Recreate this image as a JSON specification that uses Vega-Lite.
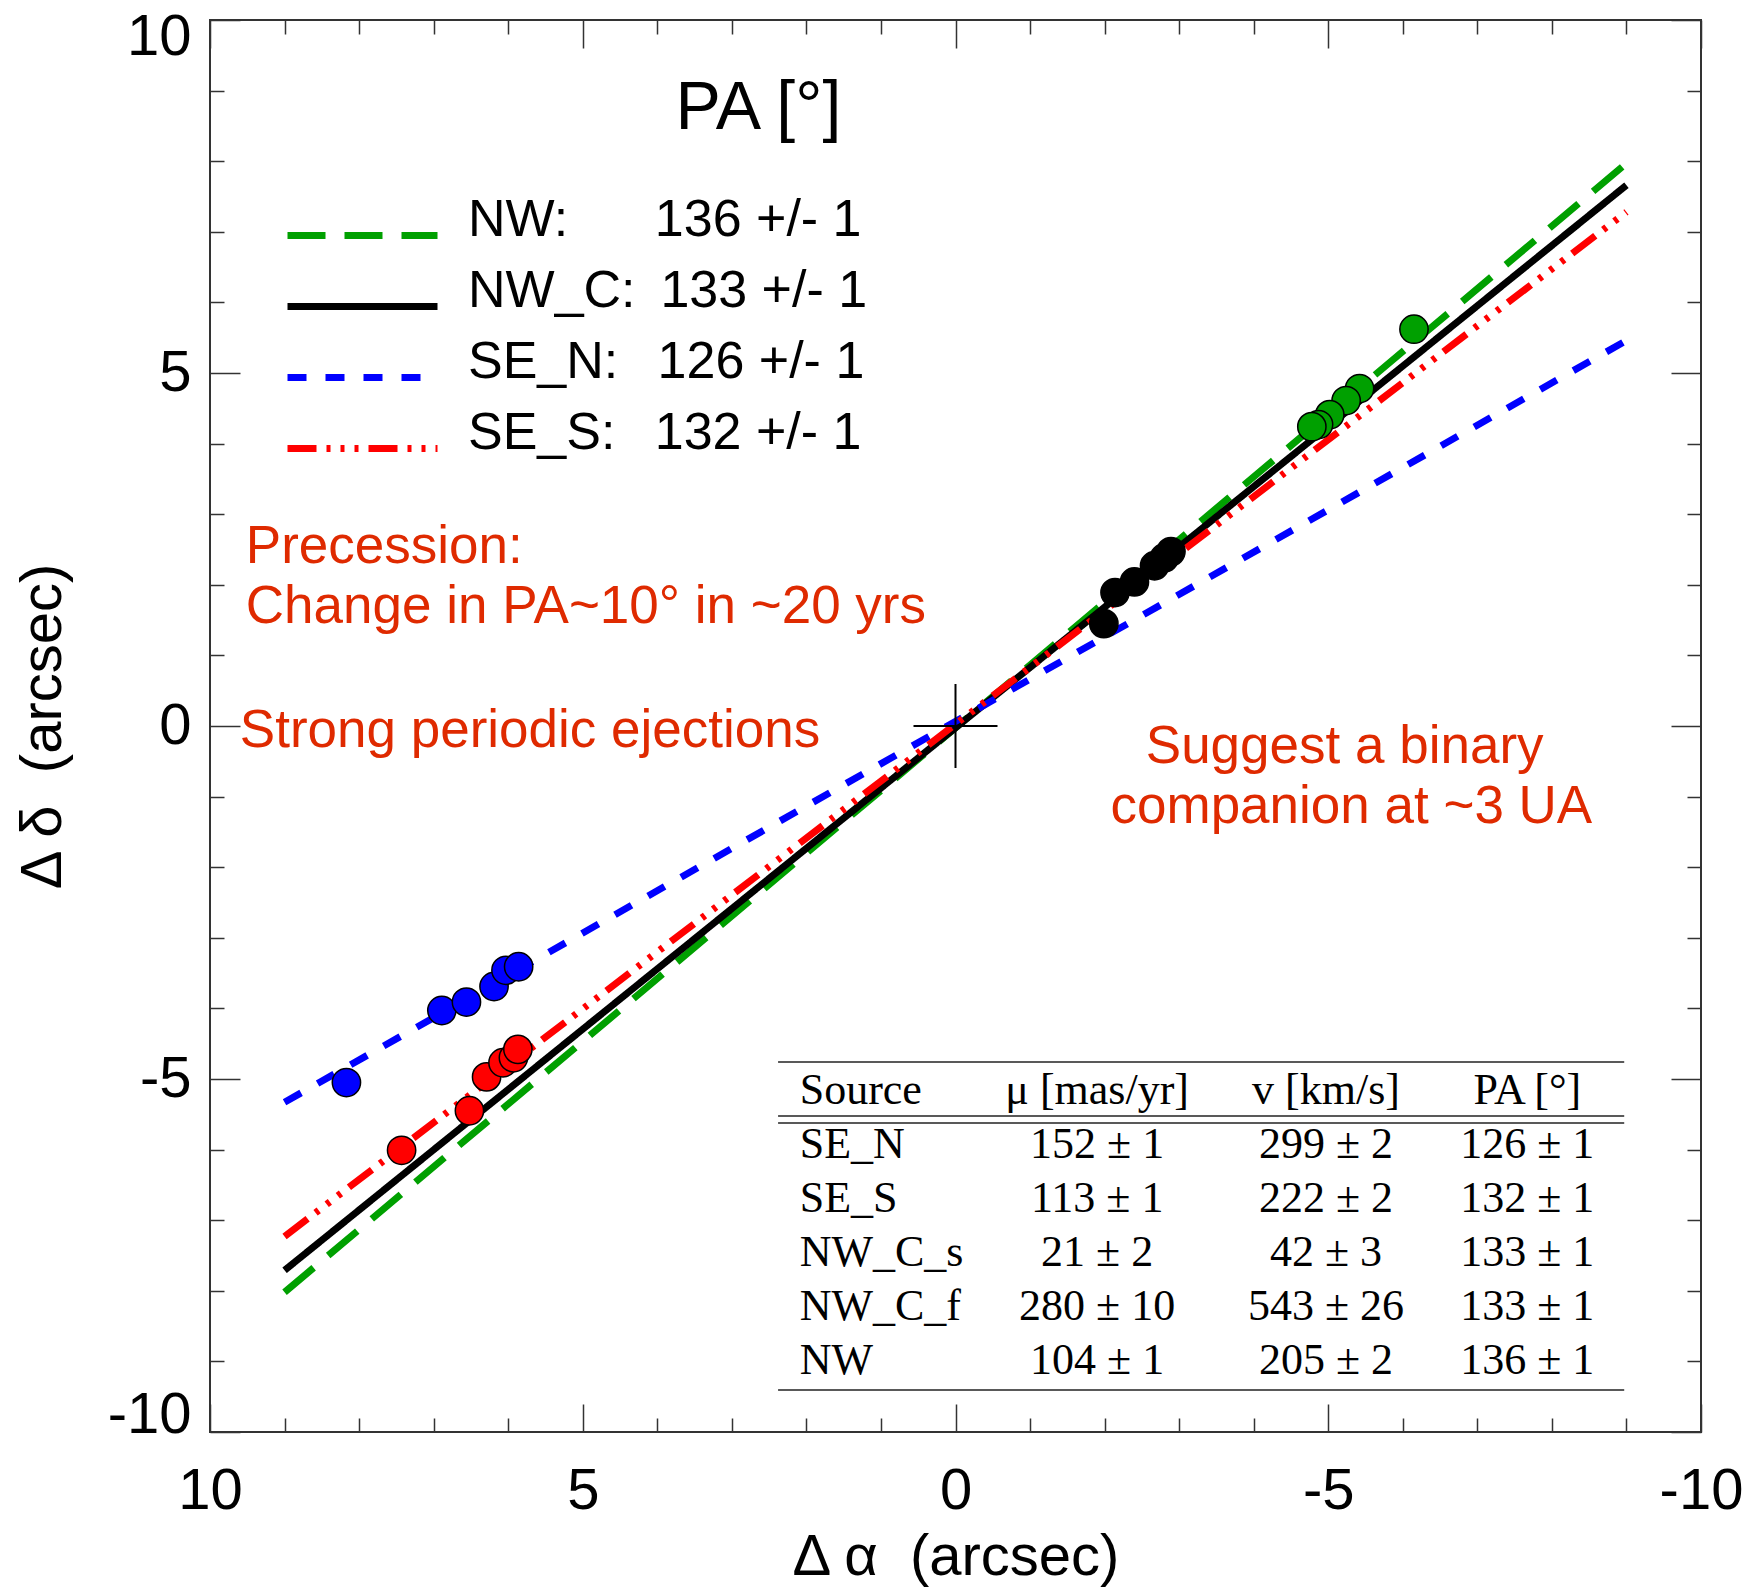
{
  "$schema": "https://vega.github.io/schema/vega-lite/v6.json",
  "width": 1491,
  "height": 1412,
  "autosize": {"type": "none"},
  "padding": {"left": 210, "top": 20, "right": 49, "bottom": 155},
  "background": "white",
  "config": {
    "font": "Liberation Sans",
    "view": {"stroke": "#333333", "strokeWidth": 2},
    "axis": {
      "grid": false, "domain": false, "tickColor": "#333333", "tickWidth": 1.5,
      "labelFont": "Liberation Sans", "labelFontSize": 58, "labelColor": "#000000",
      "titleFont": "Liberation Sans", "titleFontSize": 58, "titleFontWeight": "normal", "titleColor": "#000000",
      "labelOverlap": false, "labelBound": false
    }
  },
  "resolve": {"scale": {"y": "independent"}, "axis": {"x": "independent", "y": "independent"}},
  "layer": [
    {
      "data": {"values": [
        {"fit": "NW: 136 +/- 1", "x": 9.0, "y": -8.02},
        {"fit": "NW: 136 +/- 1", "x": -9.0, "y": 7.97},
        {"fit": "NW_C: 133 +/- 1", "x": 9.0, "y": -7.71},
        {"fit": "NW_C: 133 +/- 1", "x": -9.0, "y": 7.66},
        {"fit": "SE_N: 126 +/- 1", "x": 9.0, "y": -5.33},
        {"fit": "SE_N: 126 +/- 1", "x": -9.0, "y": 5.46},
        {"fit": "SE_S: 132 +/- 1", "x": 9.0, "y": -7.23},
        {"fit": "SE_S: 132 +/- 1", "x": -9.0, "y": 7.28}
      ]},
      "mark": {"type": "line", "strokeWidth": 7, "strokeCap": "butt"},
      "encoding": {
        "x": {"field": "x", "type": "quantitative",
          "scale": {"domain": [-10, 10], "reverse": true, "nice": false, "zero": false},
          "axis": {"orient": "bottom", "values": [-10, -5, 0, 5, 10], "tickSize": -28, "labelPadding": 58,
            "labelExpr": "datum.value + ''", "labelFlush": false, "title": "Δ α\u00a0\u00a0(arcsec)", "titlePadding": 8}},
        "y": {"field": "y", "type": "quantitative",
          "scale": {"domain": [-10, 10], "nice": false, "zero": false},
          "axis": {"orient": "left", "values": [-10, -5, 0, 5, 10], "tickSize": -30, "labelPadding": 49,
            "labelExpr": "datum.value + ''", "labelFlush": true, "labelFlushOffset": 12,
            "title": "Δ δ\u00a0\u00a0(arcsec)", "titlePadding": 35}},
        "color": {"field": "fit", "type": "nominal",
          "scale": {"range": ["#00A000", "#000000", "#0000FF", "#FF0000"]},
          "legend": {
            "orient": "none", "legendX": 74, "legendY": 187, "padding": 0, "title": null,
            "symbolType": "M-3,0H3", "symbolSize": 2500, "symbolOffset": 50, "symbolStrokeWidth": 7,
            "labelFont": "Liberation Sans", "labelFontSize": 52, "labelColor": "#000000", "labelOffset": 77,
            "labelBaseline": "alphabetic", "labelLimit": 2000, "rowPadding": 14,
            "labelExpr": "indexof(datum.label, 'NW:') == 0 ? replace(datum.label, ': ', ':\u00a0\u00a0\u00a0\u00a0\u00a0\u00a0') : indexof(datum.label, 'NW_C') == 0 ? replace(datum.label, ': ', ':\u00a0\u2009') : replace(datum.label, ': ', ':\u00a0\u00a0\u2009')"
          }},
        "strokeDash": {"field": "fit", "type": "nominal",
          "scale": {"range": [[38, 19], [1, 0], [19, 19], [29, 10, 4, 10, 4, 10, 4, 10]]}}
      }
    },
    {
      "data": {"values": [
        {"jet": "NW", "x": -6.15, "y": 5.62},
        {"jet": "NW", "x": -5.42, "y": 4.78},
        {"jet": "NW", "x": -5.24, "y": 4.61},
        {"jet": "NW", "x": -5.02, "y": 4.41},
        {"jet": "NW", "x": -4.87, "y": 4.27},
        {"jet": "NW", "x": -4.78, "y": 4.24},
        {"jet": "NW_C", "x": -1.99, "y": 1.45},
        {"jet": "NW_C", "x": -2.14, "y": 1.89},
        {"jet": "NW_C", "x": -2.40, "y": 2.04},
        {"jet": "NW_C", "x": -2.67, "y": 2.27},
        {"jet": "NW_C", "x": -2.80, "y": 2.38},
        {"jet": "NW_C", "x": -2.89, "y": 2.47},
        {"jet": "SE_N", "x": 8.17, "y": -5.05},
        {"jet": "SE_N", "x": 6.89, "y": -4.03},
        {"jet": "SE_N", "x": 6.56, "y": -3.91},
        {"jet": "SE_N", "x": 6.19, "y": -3.69},
        {"jet": "SE_N", "x": 6.03, "y": -3.46},
        {"jet": "SE_N", "x": 5.86, "y": -3.41},
        {"jet": "SE_S", "x": 7.43, "y": -6.01},
        {"jet": "SE_S", "x": 6.52, "y": -5.45},
        {"jet": "SE_S", "x": 6.29, "y": -4.97},
        {"jet": "SE_S", "x": 6.07, "y": -4.77},
        {"jet": "SE_S", "x": 5.93, "y": -4.70},
        {"jet": "SE_S", "x": 5.87, "y": -4.58}
      ]},
      "mark": {"type": "circle", "size": 800, "stroke": "#000000", "strokeWidth": 1.5, "opacity": 1},
      "encoding": {
        "x": {"field": "x", "type": "quantitative",
          "scale": {"domain": [-10, 10], "reverse": true, "nice": false, "zero": false},
          "axis": {"orient": "top", "values": [-10, -5, 0, 5, 10], "tickSize": -28, "labels": false, "title": null}},
        "y": {"field": "y", "type": "quantitative",
          "scale": {"domain": [-10, 10], "nice": false, "zero": false},
          "axis": {"orient": "right", "values": [-10, -5, 0, 5, 10], "tickSize": -30, "labels": false, "title": null}},
        "fill": {"field": "jet", "type": "nominal",
          "scale": {"range": ["#00A000", "#000000", "#0000FF", "#FF0000"]}, "legend": null}
      }
    },
    {
      "data": {"values": [{"object": "source"}]},
      "mark": {"type": "point", "shape": "M-1,0H1M0,-1V1", "size": 7056, "filled": false, "stroke": "#000000", "strokeWidth": 2, "opacity": 1},
      "encoding": {
        "x": {"datum": 0, "type": "quantitative",
          "scale": {"domain": [-10, 10], "reverse": true, "nice": false, "zero": false},
          "axis": {"orient": "bottom", "values": [-9, -8, -7, -6, -4, -3, -2, -1, 1, 2, 3, 4, 6, 7, 8, 9], "tickSize": -14, "labels": false, "title": null}},
        "y": {"datum": 0, "type": "quantitative",
          "scale": {"domain": [-10, 10], "nice": false, "zero": false},
          "axis": {"orient": "left", "values": [-9, -8, -7, -6, -4, -3, -2, -1, 1, 2, 3, 4, 6, 7, 8, 9], "tickSize": -14, "labels": false, "title": null}}
      }
    },
    {
      "data": {"values": [{"note": "Precession:"}]},
      "mark": {"type": "text", "align": "left", "baseline": "alphabetic", "font": "Liberation Sans", "fontSize": 53, "color": "#DF2A00"},
      "encoding": {
        "text": {"field": "note"},
        "x": {"datum": 9.52, "type": "quantitative",
          "scale": {"domain": [-10, 10], "reverse": true, "nice": false, "zero": false},
          "axis": {"orient": "top", "values": [-9, -8, -7, -6, -4, -3, -2, -1, 1, 2, 3, 4, 6, 7, 8, 9], "tickSize": -14, "labels": false, "title": null}},
        "y": {"datum": 2.305, "type": "quantitative",
          "scale": {"domain": [-10, 10], "nice": false, "zero": false},
          "axis": {"orient": "right", "values": [-9, -8, -7, -6, -4, -3, -2, -1, 1, 2, 3, 4, 6, 7, 8, 9], "tickSize": -14, "labels": false, "title": null}}
      }
    },
    {
      "data": {"values": [{"note": "Change in PA~10° in ~20 yrs"}]},
      "mark": {"type": "text", "align": "left", "baseline": "alphabetic", "font": "Liberation Sans", "fontSize": 53, "color": "#DF2A00"},
      "encoding": {
        "text": {"field": "note"},
        "x": {"datum": 9.52, "type": "quantitative", "scale": {"domain": [-10, 10], "reverse": true, "nice": false, "zero": false}, "axis": null},
        "y": {"datum": 1.463, "type": "quantitative", "scale": {"domain": [-10, 10], "nice": false, "zero": false}, "axis": null}
      }
    },
    {
      "data": {"values": [{"note": "Strong periodic ejections"}]},
      "mark": {"type": "text", "align": "left", "baseline": "alphabetic", "font": "Liberation Sans", "fontSize": 53, "color": "#DF2A00"},
      "encoding": {
        "text": {"field": "note"},
        "x": {"datum": 9.6, "type": "quantitative", "scale": {"domain": [-10, 10], "reverse": true, "nice": false, "zero": false}, "axis": null},
        "y": {"datum": -0.3, "type": "quantitative", "scale": {"domain": [-10, 10], "nice": false, "zero": false}, "axis": null}
      }
    },
    {
      "data": {"values": [{"note": "Suggest a binary"}]},
      "mark": {"type": "text", "align": "center", "baseline": "alphabetic", "font": "Liberation Sans", "fontSize": 53, "color": "#DF2A00"},
      "encoding": {
        "text": {"field": "note"},
        "x": {"datum": -5.22, "type": "quantitative", "scale": {"domain": [-10, 10], "reverse": true, "nice": false, "zero": false}, "axis": null},
        "y": {"datum": -0.52, "type": "quantitative", "scale": {"domain": [-10, 10], "nice": false, "zero": false}, "axis": null}
      }
    },
    {
      "data": {"values": [{"note": "companion at ~3 UA"}]},
      "mark": {"type": "text", "align": "center", "baseline": "alphabetic", "font": "Liberation Sans", "fontSize": 53, "color": "#DF2A00"},
      "encoding": {
        "text": {"field": "note"},
        "x": {"datum": -5.31, "type": "quantitative", "scale": {"domain": [-10, 10], "reverse": true, "nice": false, "zero": false}, "axis": null},
        "y": {"datum": -1.37, "type": "quantitative", "scale": {"domain": [-10, 10], "nice": false, "zero": false}, "axis": null}
      }
    },
    {
      "data": {"values": [{"note": "PA [°]"}]},
      "mark": {"type": "text", "align": "left", "baseline": "alphabetic", "font": "Liberation Sans", "fontSize": 68, "color": "#000000"},
      "encoding": {
        "text": {"field": "note"},
        "x": {"datum": 3.755, "type": "quantitative", "scale": {"domain": [-10, 10], "reverse": true, "nice": false, "zero": false}, "axis": null},
        "y": {"datum": 8.452, "type": "quantitative", "scale": {"domain": [-10, 10], "nice": false, "zero": false}, "axis": null}
      }
    },
    {
      "data": {"values": [{"rule": "top"}]},
      "mark": {"type": "rule", "stroke": "#222222", "strokeWidth": 1.6},
      "encoding": {
        "x": {"datum": 2.38, "type": "quantitative", "scale": {"domain": [-10, 10], "reverse": true, "nice": false, "zero": false}, "axis": null},
        "x2": {"datum": -8.97},
        "y": {"datum": -4.76, "type": "quantitative", "scale": {"domain": [-10, 10], "nice": false, "zero": false}, "axis": null}
      }
    },
    {
      "data": {"values": [{"rule": "mid1"}]},
      "mark": {"type": "rule", "stroke": "#222222", "strokeWidth": 1.6},
      "encoding": {
        "x": {"datum": 2.38, "type": "quantitative", "scale": {"domain": [-10, 10], "reverse": true, "nice": false, "zero": false}, "axis": null},
        "x2": {"datum": -8.97},
        "y": {"datum": -5.524, "type": "quantitative", "scale": {"domain": [-10, 10], "nice": false, "zero": false}, "axis": null}
      }
    },
    {
      "data": {"values": [{"rule": "mid2"}]},
      "mark": {"type": "rule", "stroke": "#222222", "strokeWidth": 1.6},
      "encoding": {
        "x": {"datum": 2.38, "type": "quantitative", "scale": {"domain": [-10, 10], "reverse": true, "nice": false, "zero": false}, "axis": null},
        "x2": {"datum": -8.97},
        "y": {"datum": -5.623, "type": "quantitative", "scale": {"domain": [-10, 10], "nice": false, "zero": false}, "axis": null}
      }
    },
    {
      "data": {"values": [{"rule": "bottom"}]},
      "mark": {"type": "rule", "stroke": "#222222", "strokeWidth": 1.6},
      "encoding": {
        "x": {"datum": 2.38, "type": "quantitative", "scale": {"domain": [-10, 10], "reverse": true, "nice": false, "zero": false}, "axis": null},
        "x2": {"datum": -8.97},
        "y": {"datum": -9.405, "type": "quantitative", "scale": {"domain": [-10, 10], "nice": false, "zero": false}, "axis": null}
      }
    },
    {
      "data": {"name": "table", "values": [
        {"Source": "Source", "mu": "μ [mas/yr]", "v": "v [km/s]", "PA": "PA [°]"},
        {"Source": "SE_N", "mu": "152 ± 1", "v": "299 ± 2", "PA": "126 ± 1"},
        {"Source": "SE_S", "mu": "113 ± 1", "v": "222 ± 2", "PA": "132 ± 1"},
        {"Source": "NW_C_s", "mu": "21 ± 2", "v": "42 ± 3", "PA": "133 ± 1"},
        {"Source": "NW_C_f", "mu": "280 ± 10", "v": "543 ± 26", "PA": "133 ± 1"},
        {"Source": "NW", "mu": "104 ± 1", "v": "205 ± 2", "PA": "136 ± 1"}
      ]},
      "layer": [
        {
          "mark": {"type": "text", "align": "left", "baseline": "middle", "font": "Liberation Serif", "fontSize": 44, "color": "#000000"},
          "encoding": {
            "text": {"field": "Source"},
            "x": {"datum": 2.09, "type": "quantitative", "scale": {"domain": [-10, 10], "reverse": true, "nice": false, "zero": false}, "axis": null},
            "y": {"field": "Source", "type": "nominal", "sort": null, "scale": {"type": "point", "padding": 0, "range": [1071, 1341]}, "axis": null}
          }
        },
        {
          "mark": {"type": "text", "align": "center", "baseline": "middle", "font": "Liberation Serif", "fontSize": 44, "color": "#000000"},
          "encoding": {
            "text": {"field": "mu"},
            "x": {"datum": -1.9, "type": "quantitative", "scale": {"domain": [-10, 10], "reverse": true, "nice": false, "zero": false}, "axis": null},
            "y": {"field": "Source", "type": "nominal", "sort": null, "scale": {"type": "point", "padding": 0, "range": [1071, 1341]}, "axis": null}
          }
        },
        {
          "mark": {"type": "text", "align": "center", "baseline": "middle", "font": "Liberation Serif", "fontSize": 44, "color": "#000000"},
          "encoding": {
            "text": {"field": "v"},
            "x": {"datum": -4.97, "type": "quantitative", "scale": {"domain": [-10, 10], "reverse": true, "nice": false, "zero": false}, "axis": null},
            "y": {"field": "Source", "type": "nominal", "sort": null, "scale": {"type": "point", "padding": 0, "range": [1071, 1341]}, "axis": null}
          }
        },
        {
          "mark": {"type": "text", "align": "center", "baseline": "middle", "font": "Liberation Serif", "fontSize": 44, "color": "#000000"},
          "encoding": {
            "text": {"field": "PA"},
            "x": {"datum": -7.67, "type": "quantitative", "scale": {"domain": [-10, 10], "reverse": true, "nice": false, "zero": false}, "axis": null},
            "y": {"field": "Source", "type": "nominal", "sort": null, "scale": {"type": "point", "padding": 0, "range": [1071, 1341]}, "axis": null}
          }
        }
      ]
    }
  ]
}
